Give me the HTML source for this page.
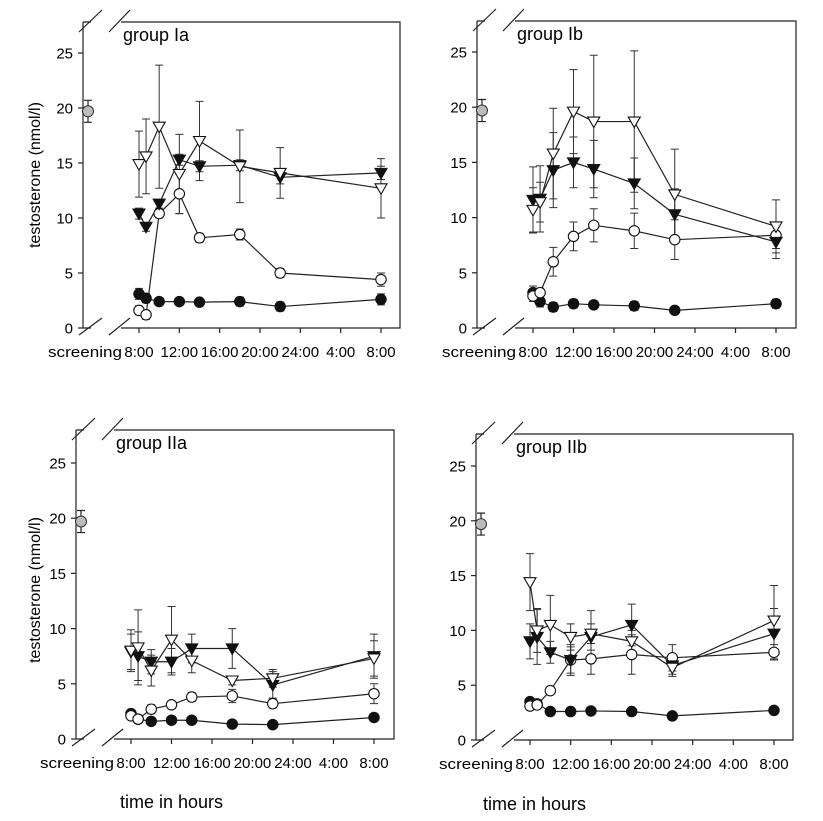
<!DOCTYPE html>
<html><head><meta charset="utf-8"><style>
body{margin:0;background:#fff;}
svg{display:block;font-family:"Liberation Sans",Arial,sans-serif;}
</style></head><body>
<svg id="chart" width="823" height="821" viewBox="0 0 823 821" xmlns="http://www.w3.org/2000/svg">
<text transform="translate(40,175) rotate(-90)" text-anchor="middle" font-size="16">testosterone (nmol/l)</text>
<text transform="translate(40,590) rotate(-90)" text-anchor="middle" font-size="16">testosterone (nmol/l)</text>
<text x="120" y="808" font-size="18">time in hours</text>
<text x="483" y="810" font-size="18">time in hours</text>
</svg>
<script>
const hours = [8, 8.7, 10, 12, 14, 18, 22, 32];
const xTickHours = [8, 12, 16, 20, 24, 28, 32];
const xTickLabels = ["8:00", "12:00", "16:00", "20:00", "24:00", "4:00", "8:00"];
const yTicks = [0, 5, 10, 15, 20, 25];
const screeningMean = 19.7;
const screeningErr = 1.0;

const groupNames = ["group Ia", "group Ib", "group IIa", "group IIb"];

const ia_filledCircle = [3.1, 2.7, 2.4, 2.4, 2.35, 2.4, 1.95, 2.6];
const ia_filledCircleErr = [0.5, 0.4, 0.3, 0.3, 0.3, 0.4, 0.4, 0.5];
const ia_openCircle = [1.6, 1.2, 10.4, 12.2, 8.2, 8.5, 5.0, 4.4];
const ia_openCircleErr = [0.4, 0.4, 0.4, 1.8, 0.4, 0.5, 0.4, 0.6];
const ia_filledTri = [10.4, 9.2, 11.3, 15.3, 14.7, 14.8, 13.7, 14.1];
const ia_filledTriErr = [0.5, 0.4, 0.4, 0.5, 0.5, 0.5, 0.6, 0.6];
const ia_openTri = [14.9, 15.6, 18.3, 14.0, 17.0, 14.7, 14.1, 12.7];
const ia_openTriErr = [3.0, 3.4, 5.6, 3.6, 3.6, 3.3, 2.3, 2.7];

const ib_filledCircle = [3.2, 2.4, 1.9, 2.2, 2.1, 2.0, 1.6, 2.2];
const ib_filledCircleErr = [0.6, 0.5, 0.4, 0.4, 0.3, 0.4, 0.2, 0.4];
const ib_openCircle = [2.9, 3.2, 6.0, 8.3, 9.3, 8.8, 8.0, 8.4];
const ib_openCircleErr = [0.5, 0.4, 1.3, 1.3, 1.5, 1.6, 1.8, 1.2];
const ib_filledTri = [11.6, 11.7, 14.3, 15.0, 14.4, 13.1, 10.3, 7.8];
const ib_filledTriErr = [3.0, 3.0, 3.4, 2.3, 2.6, 2.3, 2.3, 1.5];
const ib_openTri = [10.7, 11.4, 15.8, 19.6, 18.7, 18.7, 12.1, 9.2];
const ib_openTriErr = [2.0, 1.8, 4.1, 3.8, 6.0, 6.4, 4.1, 2.4];

const iia_filledCircle = [2.3, 1.8, 1.6, 1.7, 1.7, 1.35, 1.3, 1.95];
const iia_filledCircleErr = [0.2, 0.2, 0.2, 0.2, 0.2, 0.2, 0.2, 0.2];
const iia_openCircle = [2.1, 1.8, 2.7, 3.1, 3.8, 3.9, 3.2, 4.1];
const iia_openCircleErr = [0.2, 0.2, 0.4, 0.3, 0.4, 0.6, 0.4, 0.9];
const iia_filledTri = [7.9, 7.5, 7.0, 7.0, 8.2, 8.2, 4.9, 7.5];
const iia_filledTriErr = [1.6, 2.2, 1.1, 1.2, 1.3, 1.8, 1.2, 2.0];
const iia_openTri = [8.0, 8.3, 6.2, 9.0, 7.1, 5.3, 5.5, 7.3];
const iia_openTriErr = [1.9, 3.4, 1.4, 3.0, 1.1, 0.4, 0.8, 1.6];

const iib_filledCircle = [3.5, 3.3, 2.6, 2.6, 2.65, 2.6, 2.2, 2.7];
const iib_filledCircleErr = [0.2, 0.2, 0.2, 0.2, 0.2, 0.3, 0.2, 0.2];
const iib_openCircle = [3.1, 3.2, 4.5, 7.3, 7.4, 7.8, 7.5, 8.0];
const iib_openCircleErr = [0.2, 0.2, 0.3, 1.2, 1.4, 1.8, 1.2, 0.7];
const iib_filledTri = [9.0, 9.4, 8.0, 7.3, 9.4, 10.5, 6.8, 9.7];
const iib_filledTriErr = [1.6, 2.5, 1.0, 1.4, 1.2, 1.9, 0.8, 2.3];
const iib_openTri = [14.4, 10.0, 10.5, 9.4, 9.7, 9.0, 6.6, 10.9];
const iib_openTriErr = [2.6, 2.0, 2.7, 1.2, 2.1, 1.0, 0.8, 3.2];

const panelData = [
  [ia_filledCircle, ia_filledCircleErr, ia_openCircle, ia_openCircleErr, ia_filledTri, ia_filledTriErr, ia_openTri, ia_openTriErr],
  [ib_filledCircle, ib_filledCircleErr, ib_openCircle, ib_openCircleErr, ib_filledTri, ib_filledTriErr, ib_openTri, ib_openTriErr],
  [iia_filledCircle, iia_filledCircleErr, iia_openCircle, iia_openCircleErr, iia_filledTri, iia_filledTriErr, iia_openTri, iia_openTriErr],
  [iib_filledCircle, iib_filledCircleErr, iib_openCircle, iib_openCircleErr, iib_filledTri, iib_filledTriErr, iib_openTri, iib_openTriErr]
];

const layouts = [
  {ax:83, x8:139, x32:381, y0:328, y25:53, top:22, right:400},
  {ax:477, x8:533, x32:776, y0:328, y25:52, top:21, right:796},
  {ax:76, x8:131, x32:374, y0:739, y25:463, top:430, right:394},
  {ax:476, x8:530, x32:774, y0:740, y25:466, top:434, right:793}
];

const NS = "http://www.w3.org/2000/svg";
const svg = document.getElementById("chart");
function mk(tag, attrs, parent){
  const e = document.createElementNS(NS, tag);
  for (const k in attrs) e.setAttribute(k, attrs[k]);
  (parent || svg).appendChild(e);
  return e;
}

layouts.forEach((L, p) => {
  const g = mk("g", {});
  
  
  const xs = h => L.x8 + (h - 8) * (L.x32 - L.x8) / 24;
  const ys = v => L.y0 - v * (L.y0 - L.y25) / 25;
  const st = {stroke:"#222", "stroke-width":1.2, fill:"none"};
  const frame = mk("path", Object.assign({d:`M${L.ax},${L.top} V${L.y0} M${L.ax},${L.y0} H${L.ax+8} M${L.ax+38},${L.y0} H${L.right} V${L.top} H${L.ax+38} M${L.ax},${L.top} H${L.ax+8}`}, st), g);
  
  
  const brk = mk("path", Object.assign({d:`M${L.ax-4},${L.y0+7} L${L.ax+19},${L.y0-10} M${L.ax+26},${L.y0+7} L${L.ax+47},${L.y0-10} M${L.ax-4},${L.top+10} L${L.ax+19},${L.top-12} M${L.ax+26},${L.top+10} L${L.ax+47},${L.top-12}`}, st), g);
  
  
  yTicks.forEach(v => {
    mk("line", {x1:L.ax-5, x2:L.ax, y1:ys(v), y2:ys(v), stroke:"#222", "stroke-width":1.2}, g);
    const t = mk("text", {x:L.ax-10, y:ys(v)+5.5, "text-anchor":"end", "font-size":15}, g);
    t.textContent = v;
    
    
  });
  xTickHours.forEach((h, i) => {
    mk("line", {x1:xs(h), x2:xs(h), y1:L.y0, y2:L.y0+5, stroke:"#222", "stroke-width":1.2}, g);
    const t = mk("text", {x:xs(h), y:L.y0+29, "text-anchor":"middle", "font-size":15}, g);
    t.textContent = xTickLabels[i];
    
    
  });
  const sc = mk("text", {x:L.x8 - 91, y:L.y0+29, "font-size":15, textLength:74, lengthAdjust:"spacingAndGlyphs"}, g);
  sc.textContent = "screening";
  
  
  const gl = mk("text", {x:L.ax+40, y:L.top+19, "font-size":18}, g);
  gl.textContent = groupNames[p];
  
  
  const sx = L.ax + 5;
  mk("path", Object.assign({d:`M${sx},${ys(screeningMean-screeningErr)} V${ys(screeningMean+screeningErr)} M${sx-4},${ys(screeningMean-screeningErr)} h8 M${sx-4},${ys(screeningMean+screeningErr)} h8`}, st), g);
  const sp = mk("circle", {cx:sx, cy:ys(screeningMean), r:5.5, fill:"#bbb", stroke:"#333", "stroke-width":1}, g);
  
  

  const D = panelData[p];
  const seriesDefs = [
    {name:"filled-circle", vals:D[0], err:D[1], shape:"circle", fill:"#111"},
    {name:"open-circle", vals:D[2], err:D[3], shape:"circle", fill:"#fff"},
    {name:"filled-triangle", vals:D[4], err:D[5], shape:"tri", fill:"#111"},
    {name:"open-triangle", vals:D[6], err:D[7], shape:"tri", fill:"#fff"}
  ];
  seriesDefs.forEach(s => {
    let d = "";
    s.vals.forEach((v, i) => {
      const x = xs(hours[i]);
      d += `M${x},${ys(v - s.err[i])} V${ys(v + s.err[i])} M${x-4},${ys(v - s.err[i])} h8 M${x-4},${ys(v + s.err[i])} h8 `;
    });
    const eb = mk("path", {d, stroke:"#333", "stroke-width":1, fill:"none"}, g);
    
    
    const pts = s.vals.map((v, i) => xs(hours[i]) + "," + ys(v)).join(" ");
    const ln = mk("polyline", {points:pts, stroke:"#222", "stroke-width":1.2, fill:"none"}, g);
    
    
  });
  seriesDefs.forEach(s => {
    s.vals.forEach((v, i) => {
      const x = xs(hours[i]), y = ys(v);
      let m;
      if (s.shape === "circle") {
        m = mk("circle", {cx:x, cy:y, r:5.2, fill:s.fill, stroke:"#111", "stroke-width":1.1}, g);
      } else {
        m = mk("path", {d:`M${x-6},${y-4.5} L${x+6},${y-4.5} L${x},${y+6} Z`, fill:s.fill, stroke:"#111", "stroke-width":1.1}, g);
      }
      
      
    });
  });
});
</script>
</body></html>
